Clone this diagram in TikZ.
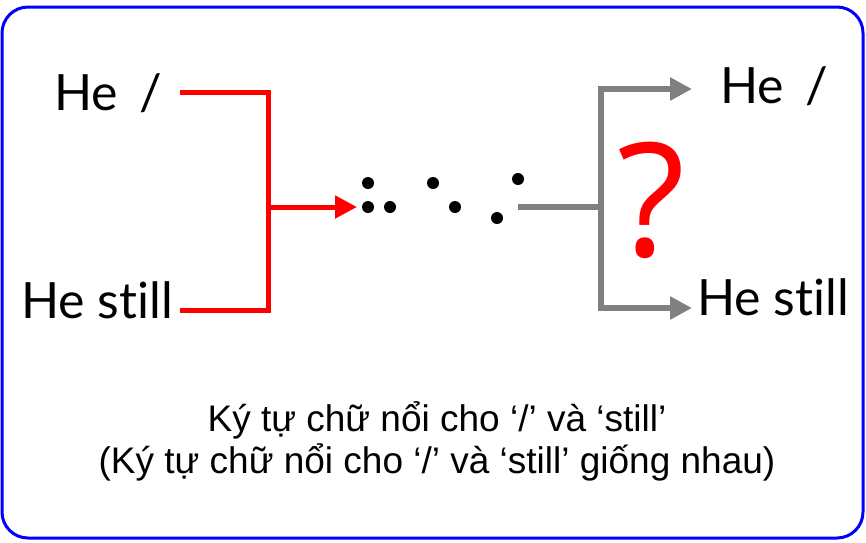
\documentclass[tikz,border=0pt]{standalone}
\usepackage{fontspec}
\setmainfont[RawFeature={-liga}]{Lato}
\newfontfamily\qfont{Open Sans}
\newfontfamily\capfont{Liberation Sans}
\usetikzlibrary{arrows.meta}
\begin{document}
\begin{tikzpicture}[x=1pt,y=-1pt,
  lbl/.style={inner sep=0pt,font=\fontsize{50}{55}\selectfont},
  redln/.style={draw=red,line width=5pt},
  grayln/.style={draw=gray,line width=5.5pt},
  dot/.style={circle,fill=black,inner sep=0pt,minimum size=12pt}]
\useasboundingbox (0,0) rectangle (866,542);
\draw[blue,line width=3pt,rounded corners=26pt] (2,7) rectangle (863,538);
% left labels
\node[lbl,anchor=west] (l1) at (54,93) {He\, /};
\node[lbl,anchor=west] (l2) at (21,300) {He still};
\coordinate (r1) at (180,92);
\coordinate (r2) at (180,310);
\coordinate (rj) at (268,207);
\draw[redln] (r1) -- (268,92) -- (268,310) -- (r2);
\draw[redln,-{Triangle[length=22pt,width=22pt]}] (rj) -- (357,207);
% braille dots
\node[dot] (d1) at (368,183) {};
\node[dot] (d2) at (368,207) {};
\node[dot] (d3) at (390,207) {};
\node[dot] (d4) at (433,183) {};
\node[dot] (d5) at (455,207) {};
\node[dot] (d6) at (518,179) {};
\node[dot] (d7) at (497,218) {};
% gray
\coordinate (g0) at (518,207);
\coordinate (gj) at (601,207);
\draw[grayln] (g0) -- (gj);
\draw[grayln,-{Triangle[length=22pt,width=22pt]}] (gj) -- (601,89) -- (692,89);
\draw[grayln,-{Triangle[length=22pt,width=22pt]}] (gj) -- (601,308) -- (692,308);
% right labels
\node[lbl,anchor=west] (rl1) at (720,86) {He\, /};
\node[lbl,anchor=west] (rl2) at (697,297) {He still};
\node[inner sep=0pt,text=red,font=\qfont\fontsize{158}{160}\selectfont] (q) at (651,200) {?};
% caption
\node[inner sep=0pt,font=\capfont\fontsize{37}{42}\selectfont,align=center] (cap) at (437,441)
 {Ký tự chữ nổi cho ‘/’ và ‘still’\\(Ký tự chữ nổi cho ‘/’ và ‘still’ giống nhau)};
\end{tikzpicture}
\end{document}
